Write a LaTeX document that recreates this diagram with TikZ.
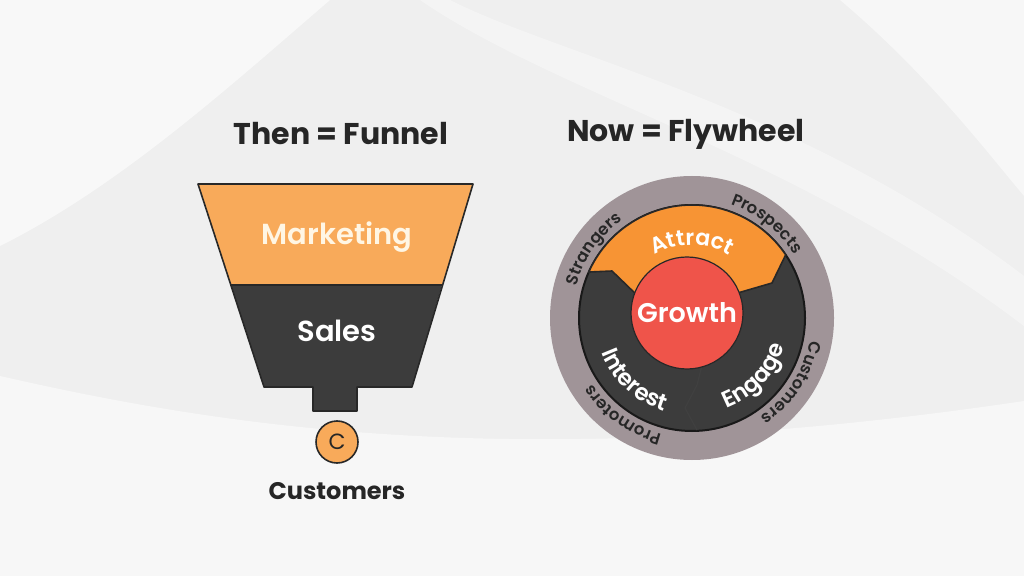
\documentclass[tikz,border=0pt]{standalone}
\usepackage{fontspec}
\setmainfont{Poppins}
\newfontfamily\semifont{Poppins SemiBold}
\newfontfamily\medfont{Poppins Medium}
\usetikzlibrary{decorations.text}
\definecolor{bgc}{RGB}{239,239,239}
\definecolor{inkc}{RGB}{38,38,38}
\definecolor{outlinec}{RGB}{40,40,40}
\definecolor{darkc}{RGB}{60,60,60}
\definecolor{mkorange}{RGB}{248,170,90}
\definecolor{attractc}{RGB}{247,148,52}
\definecolor{redc}{RGB}{239,84,74}
\definecolor{ringc}{RGB}{160,148,152}
\definecolor{creamc}{RGB}{255,246,228}
\tikzset{
  title/.style={font=\bfseries\fontsize{30}{32}\selectfont, text=inkc},
  funneltext/.style={font=\semifont\fontsize{29}{30}\selectfont, text=creamc},
  outline/.style={draw=outlinec, line width=1.6pt, line join=round},
  ringtext/.style={decorate, decoration={text along path, text align=center, text color=inkc, text={|\semifont\fontsize{16.5}{16.5}\selectfont|#1}}},
  wheeltext/.style 2 args={decorate, decoration={text along path, text align=center, text color=white, text={|\semifont\fontsize{#1}{#1}\selectfont|#2}}}
}
\begin{document}
\begin{tikzpicture}[x=1pt,y=1pt]
\useasboundingbox (0,0) rectangle (1024,576);
% background
\fill[bgc] (0,0) rectangle (1024,576);
\fill[white,opacity=0.6] (0,576) -- (330,576) .. controls (230,490) and (120,390) .. (0,330) -- cycle;
\fill[white,opacity=0.5] (0,0) -- (0,200) .. controls (220,150) and (520,100) .. (1024,175) -- (1024,0) -- cycle;
\fill[white,opacity=0.5] (840,576) .. controls (930,500) and (990,420) .. (1024,380) -- (1024,576) -- cycle;
\fill[white,opacity=0.35] (450,576) .. controls (560,520) and (800,470) .. (1024,300) -- (1024,250) .. controls (800,420) and (560,480) .. (420,576) -- cycle;

% titles
\node[title] (t1) at (341,442) {Then = Funnel};
\node[title] (t2) at (686,442) {Now = Flywheel};

% funnel
\fill[mkorange] (198,392) -- (473,392) -- (442,291) -- (231,291) -- cycle;
\fill[darkc] (231,291) -- (442,291) -- (412,189) -- (264,189) -- cycle;
\fill[darkc] (313,190) rectangle (357,165);
\draw[outline] (198,392) -- (473,392) -- (412,189) -- (357,189) -- (357,165) -- (313,165) -- (313,189) -- (264,189) -- cycle;
\draw[outline] (231,291) -- (442,291);
\node[funneltext] (mk) at (337,339) {Marketing};
\node[funneltext, text=white] (sales) at (337,245) {Sales};
\node[circle, fill=mkorange, outline, minimum size=42pt, inner sep=0pt, text=inkc, font=\fontsize{22}{22}\selectfont] (cnode) at (337,134) {C};
\node[font=\bfseries\fontsize{24}{26}\selectfont, text=inkc] (cust) at (337,85) {Customers};

% flywheel
\coordinate (C0) at (692,258);
\coordinate (G) at (687,263);
\fill[ringc] (C0) circle[radius=142];
\fill[darkc] (C0) circle[radius=113];
\draw[black!90, line width=2pt] (C0) circle[radius=113];
\draw[black!75, line width=1.2pt, line join=round] (703,215) -- (697,191) -- (685,168) -- (697,146);
\filldraw[fill=attractc, outline] ([shift={(156:113)}]C0) arc[start angle=156, end angle=34, radius=113] -- (772,293) -- ([shift={(22:50)}]G) arc[start angle=22, end angle=162, radius=50] -- (612,305) -- cycle;
\node[circle, fill=redc, draw=outlinec, line width=1.2pt, minimum size=112pt, inner sep=0pt, text=white, font=\semifont\fontsize{27}{27}\selectfont] (growth) at (G) {Growth};

% wheel labels
\path[wheeltext={22}{Attract}] ([shift={(130:73)}]C0) arc[start angle=130, end angle=50, radius=73];
\path[wheeltext={23}{Interest}] ([shift={(187:97)}]C0) arc[start angle=187, end angle=267, radius=97];
\path[wheeltext={23}{Engage}] ([shift={(277:97)}]C0) arc[start angle=277, end angle=357, radius=97];

% ring labels
\path[ringtext=Strangers] ([shift={(180:120)}]C0) arc[start angle=180, end angle=110, radius=120];
\path[ringtext=Prospects] ([shift={(86.5:120)}]C0) arc[start angle=86.5, end angle=16.5, radius=120];
\path[ringtext=Customers] ([shift={(2:120)}]C0) arc[start angle=2, end angle=-68, radius=120];
\path[ringtext=Promoters] ([shift={(269.5:120)}]C0) arc[start angle=269.5, end angle=199.5, radius=120];
\end{tikzpicture}
\end{document}
